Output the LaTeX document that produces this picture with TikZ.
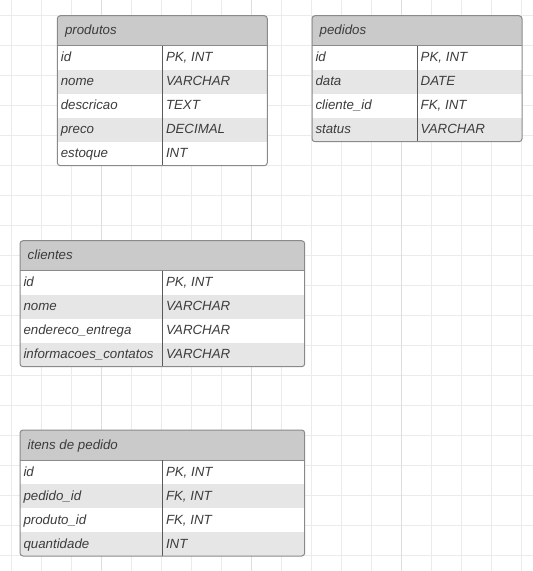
\documentclass[tikz,border=0pt]{standalone}
\usepackage{fontspec}
\setmainfont{Liberation Sans}
\definecolor{gridminor}{HTML}{EBEBEB}
\definecolor{gridmajor}{HTML}{DEDEDE}
\definecolor{hdrfill}{HTML}{CACACA}
\definecolor{altfill}{HTML}{E6E6E6}
\definecolor{tblborder}{HTML}{8A8A8A}
\definecolor{divline}{HTML}{5A5A5A}
\definecolor{txt}{HTML}{3C3C3C}
\tikzset{
  celltext/.style={anchor=base west, inner sep=0pt, text=txt, font=\fontsize{13.3}{15}\selectfont\itshape},
  tblframe/.style={draw=tblborder, line width=1pt, rounded corners=3pt},
  hdrline/.style={draw=tblborder, line width=0.9pt},
  colline/.style={draw=divline, line width=0.9pt},
}
% \erdtable{name}{left}{top}{right}{divider}{title}{rows}{nrows}
\newcommand{\erdtable}[8]{%
  \pgfmathsetmacro{\tL}{#2}\pgfmathsetmacro{\tT}{#3}%
  \pgfmathsetmacro{\tR}{#4}\pgfmathsetmacro{\tD}{#5}%
  \pgfmathsetmacro{\tH}{\tT+30}\pgfmathsetmacro{\tB}{\tT+30+24*#8}%
  \begin{scope}
    \clip[rounded corners=3pt] (\tL,\tT) rectangle (\tR,\tB);
    \fill[white] (\tL,\tT) rectangle (\tR,\tB);
    \fill[hdrfill] (\tL,\tT) rectangle (\tR,\tH);
    \foreach \a/\b [count=\i] in {#7}{%
      \pgfmathsetmacro{\rt}{\tH+24*(\i-1)}%
      \ifodd\i\else\fill[altfill] (\tL,\rt) rectangle (\tR,\rt+24);\fi
    }
  \end{scope}
  \node[celltext] (#1-title) at (\tL+7.5,\tT+19) {#6};
  \foreach \a/\b [count=\i] in {#7}{%
    \pgfmathsetmacro{\rc}{\tH+24*(\i-1)+16}%
    \node[celltext] (#1-n\i) at (\tL+3.3,\rc) {\a};
    \node[celltext] (#1-t\i) at (\tD+3.5,\rc) {\b};
  }
  \draw[hdrline] (\tL,\tH) -- (\tR,\tH);
  \draw[colline] (\tD,\tH) -- (\tD,\tB);
  \draw[tblframe] (\tL,\tT) rectangle (\tR,\tB);
}
\begin{document}
\begin{tikzpicture}[x=1pt,y=-1pt]
\useasboundingbox (0,0) rectangle (533,571);
\fill[white] (0,0) rectangle (533,571);
% grid
\foreach \k in {0,...,17}{
  \pgfmathsetmacro{\gx}{11.7+30*\k}
  \draw[gridminor, line width=0.7pt] (\gx,0) -- (\gx,571);
}
\foreach \k in {0,...,18}{
  \pgfmathsetmacro{\gy}{15+30*\k}
  \draw[gridminor, line width=0.7pt] (0,\gy) -- (533,\gy);
}
\foreach \gx in {101.7,251.7,401.7}{
  \draw[gridmajor, line width=0.7pt] (\gx,0) -- (\gx,571);
}
% tables
\erdtable{produtos}{57.3}{15.7}{267.3}{162.3}{produtos}%
  {id/{PK, INT}, nome/VARCHAR, descricao/TEXT, preco/DECIMAL, estoque/INT}{5}
\erdtable{pedidos}{312}{15.7}{522}{417}{pedidos}%
  {id/{PK, INT}, data/DATE, cliente\_id/{FK, INT}, status/VARCHAR}{4}
\erdtable{clientes}{20}{240.7}{304.7}{162.3}{clientes}%
  {id/{PK, INT}, nome/VARCHAR, endereco\_entrega/VARCHAR, informacoes\_contatos/VARCHAR}{4}
\erdtable{itens}{20}{430}{304.7}{162.3}{itens de pedido}%
  {id/{PK, INT}, pedido\_id/{FK, INT}, produto\_id/{FK, INT}, quantidade/INT}{4}
\end{tikzpicture}
\end{document}
